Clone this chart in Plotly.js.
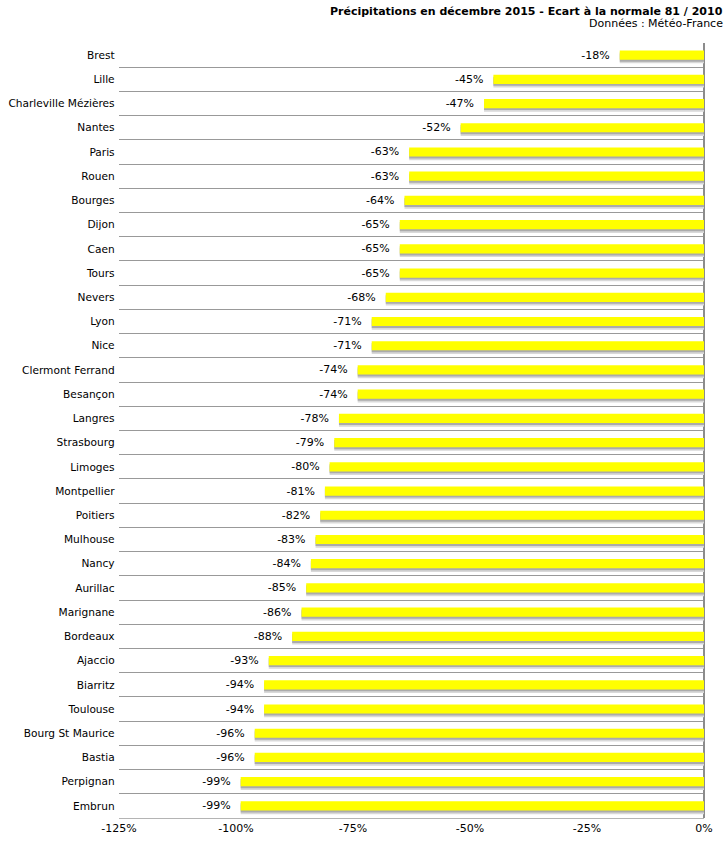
<!DOCTYPE html>
<html>
<head>
<meta charset="utf-8">
<script src="https://cdn.plot.ly/plotly-3.0.1.min.js"></script>
<style>html,body{margin:0;padding:0;background:#fff;}#chart{width:727px;height:841px;}</style>
</head>
<body>
<div id="chart"></div>
<script>
var cities = ["Brest","Lille","Charleville Mézières","Nantes","Paris","Rouen","Bourges","Dijon","Caen","Tours","Nevers","Lyon","Nice","Clermont Ferrand","Besançon","Langres","Strasbourg","Limoges","Montpellier","Poitiers","Mulhouse","Nancy","Aurillac","Marignane","Bordeaux","Ajaccio","Biarritz","Toulouse","Bourg St Maurice","Bastia","Perpignan","Embrun"];
var ecarts = [-18,-45,-47,-52,-63,-63,-64,-65,-65,-65,-68,-71,-71,-74,-74,-78,-79,-80,-81,-82,-83,-84,-85,-86,-88,-93,-94,-94,-96,-96,-99,-99];
var xTicks = [-125,-100,-75,-50,-25,0];
var titleText = "Précipitations en décembre 2015 - Ecart à la normale 81 / 2010";
var sourceText = "Données : Météo-France";

var FONT = "DejaVu Sans, Verdana, sans-serif";
var labels = ecarts.map(function(v){return v + "%\u00a0\u00a0";});

var shadowLight = {type:"bar", orientation:"h", x:ecarts, y:cities, width:0.38, offset:-0.04,
  marker:{color:"#d9d9d9"}, hoverinfo:"skip", showlegend:false};
var shadowDark = {type:"bar", orientation:"h", x:ecarts, y:cities, width:0.38, offset:-0.11,
  marker:{color:"#ababab"}, hoverinfo:"skip", showlegend:false};
var main = {type:"bar", orientation:"h", x:ecarts, y:cities, width:0.38, offset:-0.19,
  marker:{color:"#ffff00"}, text:labels, textposition:"outside", cliponaxis:false,
  constraintext:"none",
  textfont:{family:FONT, size:11, color:"#000"}, showlegend:false};

var layout = {
  width:727, height:841,
  margin:{l:119, r:23, t:43, b:23},
  paper_bgcolor:"#fff", plot_bgcolor:"#fff",
  barmode:"overlay",
  font:{family:FONT, size:11, color:"#000"},
  xaxis:{range:[-125,0], tickvals:xTicks, ticktext:xTicks.map(function(v){return v+"%";}),
    showgrid:false, zeroline:true, zerolinecolor:"#8c8c8c", zerolinewidth:1.5,
    showline:true, linecolor:"#b4b4b4", linewidth:1, ticks:"", fixedrange:true,
    tickfont:{family:FONT, size:11, color:"#000"}},
  yaxis:{type:"category", autorange:"reversed", tickson:"boundaries", showgrid:true,
    gridcolor:"#999999", gridwidth:1, ticks:"", ticklen:0, showline:false, zeroline:false,
    tickfont:{family:FONT, size:10.6, color:"#000"}, ticksuffix:"\u00a0"},
  annotations:[
    {text:"<b>"+titleText+"</b>", xref:"paper", yref:"paper", x:1.036, y:1.0, yshift:40,
      xanchor:"right", yanchor:"top", showarrow:false, font:{family:FONT, size:11, color:"#000"}},
    {text:sourceText, xref:"paper", yref:"paper", x:1.036, y:1.0, yshift:28,
      xanchor:"right", yanchor:"top", showarrow:false, font:{family:FONT, size:11, color:"#000"}}
  ]
};
Plotly.newPlot("chart", [shadowLight, shadowDark, main], layout, {displayModeBar:false, staticPlot:true});
</script>
</body>
</html>
